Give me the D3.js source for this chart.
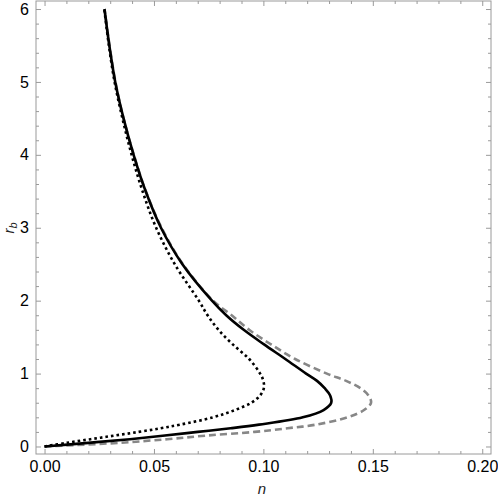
<!DOCTYPE html>
<html>
<head>
<meta charset="utf-8">
<script src="https://cdn.jsdelivr.net/npm/d3@7"></script>
<style>
    body { margin: 0; background: #fff; }
    svg { display: block; font-family: "Liberation Sans", Arial, sans-serif; }
    .tick-label { font-size: 16px; fill: #000; }
    .axisLabel { font-size: 15px; font-style: italic; fill: #222; }
</style>
</head>
<body>
<svg id="chart"></svg>
<script>
const rValues = [0, 0.05, 0.1, 0.15, 0.2, 0.25, 0.3, 0.4, 0.5, 0.6, 0.7, 0.8, 0.9, 1.0,
    1.2, 1.4, 1.6, 1.8, 2.0, 2.5, 3.0, 3.5, 4.0, 4.5, 5.0, 5.5, 6.0];

// solid black curve
const nSolid = [0, 0.020, 0.039, 0.055, 0.070, 0.085, 0.098, 0.118, 0.1275, 0.131, 0.1305, 0.128, 0.1245, 0.1195,
    0.110, 0.1003, 0.0910, 0.0830, 0.0765, 0.0630, 0.0532, 0.0462, 0.0407, 0.0361, 0.0323, 0.0296, 0.0274];

// dotted black curve
const nDotted = [0, 0.010, 0.021, 0.032, 0.043, 0.053, 0.062, 0.077, 0.087, 0.0945, 0.0985, 0.1002, 0.1000, 0.0985,
    0.0935, 0.0860, 0.0795, 0.0745, 0.0705, 0.0595, 0.0510, 0.0448, 0.0398, 0.0356, 0.0320, 0.0294, 0.0273];

// dashed gray curve
const nDashed = [0, 0.034, 0.056, 0.074, 0.096, 0.111, 0.124, 0.1385, 0.146, 0.1492, 0.148, 0.1443, 0.1378, 0.129,
    0.1145, 0.1035, 0.0935, 0.0855, 0.0770, 0.0632, 0.0535, 0.0463, 0.0408, 0.0361, 0.0324, 0.0297, 0.0274];

const xMajor = [0, 0.05, 0.10, 0.15, 0.20];
const yMajor = [0, 1, 2, 3, 4, 5, 6];

const width = 498, height = 498;
const margin = { top: 1, right: 7, bottom: 44, left: 36 };
const innerW = width - margin.left - margin.right;
const innerH = height - margin.top - margin.bottom;

const svg = d3.select('#chart')
    .attr('width', width)
    .attr('height', height);

const chart = svg.append('g')
    .attr('transform', `translate(${margin.left},${margin.top})`);

const xScale = d3.scaleLinear().domain([-0.0039, 0.204]).range([0, innerW]);
const yScale = d3.scaleLinear().domain([-0.103, 6.11]).range([innerH, 0]);

const xMinor = d3.range(0, 0.2001, 0.01).filter(v => Math.abs(v * 20 - Math.round(v * 20)) > 1e-6);
const yMinor = d3.range(0, 6.001, 0.2).filter(v => Math.abs(v - Math.round(v)) > 1e-6);

const frameColor = '#9a9a9a';

// draws one side of the frame: major ticks (maybe labelled) and minor ticks, pointing inward
function frameSide(axisFn, scale, major, minor, transform, labels, fmt) {
    const gMaj = chart.append('g').attr('transform', transform)
        .call(axisFn(scale).tickValues(major).tickSizeInner(-5).tickSizeOuter(0)
            .tickPadding(7).tickFormat(labels ? fmt : () => ''));
    const gMin = chart.append('g').attr('transform', transform)
        .call(axisFn(scale).tickValues(minor).tickSizeInner(-3).tickSizeOuter(0).tickFormat(() => ''));
    [gMaj, gMin].forEach(g => {
        g.select('.domain').remove();
        g.selectAll('.tick line').attr('stroke', frameColor);
    });
    gMaj.selectAll('.tick text').attr('class', 'tick-label').attr('font-size', null).attr('font-family', null);
}

frameSide(d3.axisBottom, xScale, xMajor, xMinor, `translate(0,${innerH})`, true, d3.format('.2f'));
frameSide(d3.axisTop, xScale, xMajor, xMinor, 'translate(0,0)', false);
frameSide(d3.axisLeft, yScale, yMajor, yMinor, 'translate(0,0)', true, d3.format('d'));
frameSide(d3.axisRight, yScale, yMajor, yMinor, `translate(${innerW},0)`, false);

chart.append('rect')
    .attr('x', 0).attr('y', 0)
    .attr('width', innerW).attr('height', innerH)
    .attr('fill', 'none')
    .attr('stroke', frameColor)
    .attr('stroke-width', 1);

const line = d3.line()
    .x(d => xScale(d.n))
    .y(d => yScale(d.r))
    .curve(d3.curveCatmullRom.alpha(0.5));

const series = [
    { values: nDashed, color: '#878787', dash: '7,4' },
    { values: nDotted, color: '#000', dash: '2.6,3' },
    { values: nSolid, color: '#000', dash: null }
];

series.forEach(s => {
    const pts = rValues.map((r, i) => ({ r: r, n: s.values[i] }));
    chart.append('path')
        .datum(pts)
        .attr('d', line)
        .attr('fill', 'none')
        .attr('stroke', s.color)
        .attr('stroke-width', 2.6)
        .attr('stroke-dasharray', s.dash);
});

// axis labels
svg.append('text')
    .attr('class', 'axisLabel')
    .attr('x', 262)
    .attr('y', 494)
    .attr('text-anchor', 'middle')
    .text('n');

const yLab = svg.append('text')
    .attr('class', 'axisLabel')
    .attr('transform', 'translate(14,228) rotate(-90)')
    .attr('text-anchor', 'middle');
yLab.append('tspan').text('r');
yLab.append('tspan').attr('font-size', '11px').attr('dy', 3).text('b');
</script>
</body>
</html>
